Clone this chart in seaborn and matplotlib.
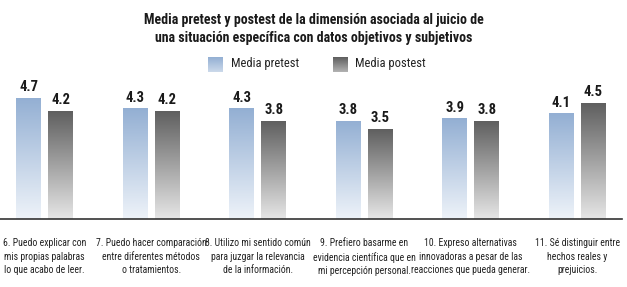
import numpy as np
import pandas as pd
import seaborn as sns
import matplotlib.pyplot as plt
from matplotlib import font_manager as fm
from matplotlib.colors import LinearSegmentedColormap

# datos
items = [
    "6. Puedo explicar con\nmis propias palabras\nlo que acabo de leer.",
    "7. Puedo hacer comparación\nentre diferentes métodos\no tratamientos.",
    "8. Utilizo mi sentido común\npara juzgar la relevancia\nde la información.",
    "9. Prefiero basarme en\nevidencia científica que en\nmi percepción personal.",
    "10. Expreso alternativas\ninnovadoras a pesar de las\nreacciones que pueda generar.",
    "11. Sé distinguir entre\nhechos reales y\nprejuicios.",
]
pretest = [4.7, 4.3, 4.3, 3.8, 3.9, 4.1]
postest = [4.2, 4.2, 3.8, 3.5, 3.8, 4.5]
series = ["Media pretest", "Media postest"]

titulo = ("Media pretest y postest de la dimensión asociada al juicio de\n"
          "una situación específica con datos objetivos y subjetivos")

df = pd.DataFrame({
    "item": items * 2,
    "serie": [series[0]] * len(items) + [series[1]] * len(items),
    "valor": pretest + postest,
})

sns.set_theme(style="white")

# fuente condensada si existe
instaladas = {f.name for f in fm.fontManager.ttflist}
candidatas = ["Roboto Condensed", "Archivo Narrow", "PT Sans Narrow",
              "Liberation Sans Narrow", "DejaVu Sans"]
fuente = [f for f in candidatas if f in instaladas] or ["DejaVu Sans"]
plt.rcParams['font.family'] = [fuente[0], 'DejaVu Sans']
condensada = fuente[0] != "DejaVu Sans"
k = 1.0 if condensada else 0.8

# gradientes (arriba color, abajo casi blanco)
cmaps = {
    series[0]: LinearSegmentedColormap.from_list("pre", ["#eef3f9", "#93afd3"]),
    series[1]: LinearSegmentedColormap.from_list("post", ["#e6e6e6", "#5e5e5e"]),
}

fig = plt.figure(figsize=(6.27, 2.87), dpi=100)
ax = fig.add_axes([0.0, 0.2369, 0.992, 0.4495])

sns.barplot(data=df, x="item", y="valor", hue="serie", order=items,
            hue_order=series, width=0.6, gap=0.22, ax=ax,
            palette=["#93afd3", "#5e5e5e"], legend=False, errorbar=None)

grad = np.linspace(0, 1, 256).reshape(-1, 1)
for cont, s in zip(ax.containers, series):
    for bar, v in zip(cont, cont.datavalues):
        x0, w, h = bar.get_x(), bar.get_width(), bar.get_height()
        bar.set_facecolor("none")
        bar.set_edgecolor("none")
        im = ax.imshow(grad, cmap=cmaps[s], origin="lower", aspect="auto",
                       extent=[x0, x0 + w, 0, h], zorder=2)
        im.set_clip_path(bar)
        ax.annotate(f"{v:.1f}", (x0 + w / 2, h), xytext=(0, 2.5),
                    textcoords="offset points", ha="center", va="bottom",
                    fontsize=10.5 * k, fontweight="bold", color="#1a1a1a")

ax.set_xlim(-0.42, 5.42)
ax.set_ylim(0, 5)
sns.despine(ax=ax, left=True)
ax.spines["bottom"].set_color("#333333")
ax.spines["bottom"].set_linewidth(1.2)
ax.set_yticks([])
ax.set_xlabel("")
ax.set_ylabel("")
ax.tick_params(axis="x", length=0, pad=14)
ax.set_xticks(range(len(items)))
ax.set_xticklabels(items, fontsize=7.0 if condensada else 5.6,
                   color="#222222", linespacing=1.42)

# título
fig.text(0.5, 0.9, titulo, ha="center", va="center", fontsize=10 * k,
         fontweight="bold", color="#1a1a1a", linespacing=1.35)

# leyenda
for x0, s, xt in [(208, series[0], 231), (333, series[1], 355)]:
    lax = fig.add_axes([x0 / 627, 1 - 72 / 287, 15 / 627, 15 / 287])
    lax.imshow(grad, cmap=cmaps[s], origin="lower", aspect="auto",
               vmin=-0.6, vmax=1)
    lax.axis("off")
    fig.text(xt / 627, 1 - 64 / 287, s, ha="left", va="center",
             fontsize=9 * k, color="#222222")

fig.savefig("out.png", dpi=100)
